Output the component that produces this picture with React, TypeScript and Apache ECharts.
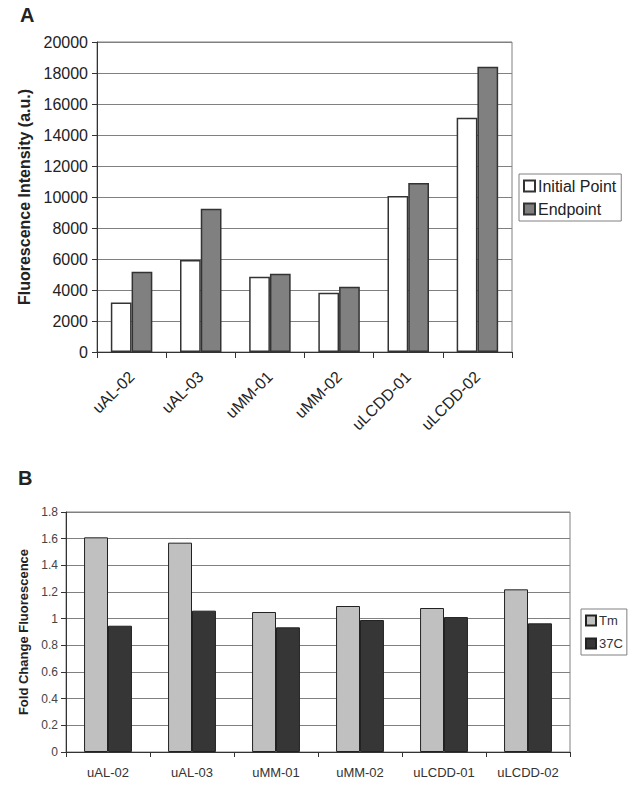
import React, { useEffect, useRef } from "react";
import * as echarts from "echarts";

const categories = ["uAL-02", "uAL-03", "uMM-01", "uMM-02", "uLCDD-01", "uLCDD-02"];
const initialPoint = [3200, 5940, 4860, 3830, 10060, 15120];
const endpoint = [5180, 9250, 5050, 4210, 10900, 18400];
const tmValues = [1.61, 1.57, 1.05, 1.095, 1.08, 1.22];
const c37Values = [0.947, 1.06, 0.935, 0.99, 1.012, 0.965];

const FONT = "'Liberation Sans', Arial, Helvetica, sans-serif";

export default function App() {
  const ref = useRef<HTMLDivElement>(null);
  useEffect(() => {
    document.body.style.margin = "0";
    if (!ref.current) return;
    const chart = echarts.init(ref.current, undefined, { renderer: "svg" });
    const gridLine = { show: true, lineStyle: { color: "#808080", width: 1 } };
    chart.setOption({
      animation: false,
      backgroundColor: "#ffffff",
      textStyle: { fontFamily: FONT },
      graphic: [
        { type: "text", left: 20, top: 5, style: { text: "A", font: `bold 20px ${FONT}`, fill: "#222" } },
        { type: "text", left: 18, top: 468, style: { text: "B", font: `bold 20px ${FONT}`, fill: "#222" } },
      ],
      grid: [
        { left: 97, top: 42, width: 415, height: 310, show: true, borderColor: "#808080", borderWidth: 1, backgroundColor: "transparent" },
        { left: 66, top: 512, width: 504, height: 240, show: true, borderColor: "#808080", borderWidth: 1, backgroundColor: "transparent" },
      ],
      legend: [
        {
          data: ["Initial Point", "Endpoint"],
          orient: "vertical",
          left: 519,
          top: 174,
          padding: [4, 5, 4, 4],
          itemWidth: 11,
          itemHeight: 11,
          itemGap: 7,
          borderColor: "#808080",
          borderWidth: 1,
          icon: "rect",
          textStyle: { fontSize: 16, color: "#222", fontFamily: FONT, padding: [0, 0, 0, -2] },
        },
        {
          data: ["Tm", "37C"],
          orient: "vertical",
          left: 581,
          top: 609,
          padding: [5, 4, 5, 4],
          itemWidth: 10,
          itemHeight: 10,
          itemGap: 10,
          borderColor: "#808080",
          borderWidth: 1,
          icon: "rect",
          textStyle: { fontSize: 13, color: "#333", fontFamily: FONT, padding: [0, 0, 0, -2] },
        },
      ],
      xAxis: [
        {
          type: "category",
          gridIndex: 0,
          data: categories,
          axisLine: { lineStyle: { color: "#333", width: 1 } },
          axisTick: { show: true, length: 6, lineStyle: { color: "#333" } },
          axisLabel: { rotate: 45, fontSize: 16, color: "#222", margin: 22, fontFamily: FONT, interval: 0 },
        },
        {
          type: "category",
          gridIndex: 1,
          data: categories,
          axisLine: { lineStyle: { color: "#333", width: 1 } },
          axisTick: { show: true, length: 5, lineStyle: { color: "#333" } },
          axisLabel: { fontSize: 13, color: "#333", margin: 14, fontFamily: FONT, interval: 0 },
        },
      ],
      yAxis: [
        {
          type: "value",
          gridIndex: 0,
          min: 0,
          max: 20000,
          interval: 2000,
          name: "Fluorescence Intensity (a.u.)",
          nameLocation: "middle",
          nameGap: 64,
          nameTextStyle: { fontSize: 16, fontWeight: "bold", color: "#222", fontFamily: FONT },
          axisLine: { show: true, lineStyle: { color: "#333", width: 1 } },
          axisTick: { show: true, length: 5, lineStyle: { color: "#333" } },
          axisLabel: { fontSize: 16, color: "#222", margin: 9, fontFamily: FONT, formatter: (v: number) => String(v) },
          splitLine: gridLine,
        },
        {
          type: "value",
          gridIndex: 1,
          min: 0,
          max: 1.8,
          interval: 0.2,
          name: "Fold Change Fluorescence",
          nameLocation: "middle",
          nameGap: 34,
          nameTextStyle: { fontSize: 13, fontWeight: "bold", color: "#222", fontFamily: FONT },
          axisLine: { show: true, lineStyle: { color: "#333", width: 1 } },
          axisTick: { show: true, length: 5, lineStyle: { color: "#333" } },
          axisLabel: { fontSize: 12, color: "#444", margin: 8, fontFamily: FONT, formatter: (v: number) => String(Math.round(v * 10) / 10) },
          splitLine: gridLine,
        },
      ],
      series: [
        {
          name: "Initial Point",
          type: "bar",
          xAxisIndex: 0,
          yAxisIndex: 0,
          data: initialPoint,
          barGap: "0%",
          barCategoryGap: "40%",
          itemStyle: { color: "#ffffff", borderColor: "#333", borderWidth: 1.5 },
        },
        {
          name: "Endpoint",
          type: "bar",
          xAxisIndex: 0,
          yAxisIndex: 0,
          data: endpoint,
          barGap: "0%",
          barCategoryGap: "40%",
          itemStyle: { color: "#808080", borderColor: "#333", borderWidth: 1.5 },
        },
        {
          name: "Tm",
          type: "bar",
          xAxisIndex: 1,
          yAxisIndex: 1,
          data: tmValues,
          barGap: "0%",
          barCategoryGap: "43%",
          itemStyle: { color: "#c0c0c0", borderColor: "#222", borderWidth: 1 },
        },
        {
          name: "37C",
          type: "bar",
          xAxisIndex: 1,
          yAxisIndex: 1,
          data: c37Values,
          barGap: "0%",
          barCategoryGap: "43%",
          itemStyle: { color: "#363636", borderColor: "#222", borderWidth: 1 },
        },
      ],
    });
    return () => chart.dispose();
  }, []);
  return <div ref={ref} style={{ width: 630, height: 786 }} />;
}
